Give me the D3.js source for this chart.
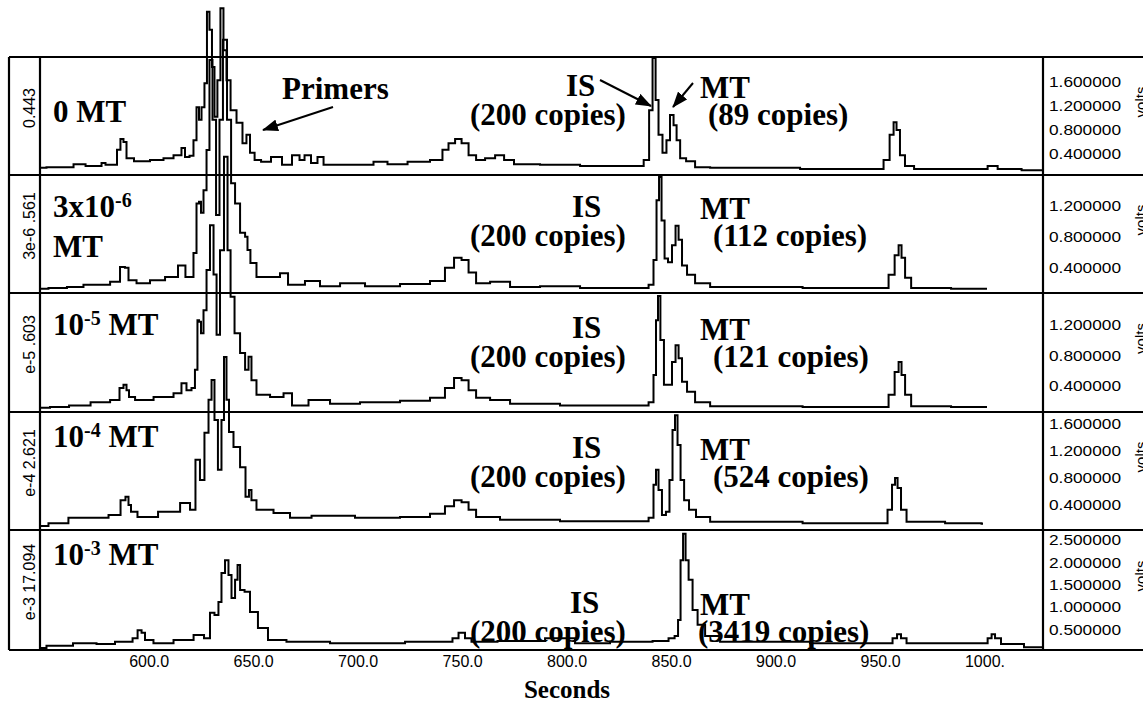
<!doctype html>
<html>
<head>
<meta charset="UTF-8">
<title>electropherogram</title>
<script src="https://cdn.jsdelivr.net/npm/d3@7"></script>
<style>
    body { margin: 0; background: #fff; }
    .serif { font-family: "Liberation Serif", "Times New Roman", serif; font-weight: bold; }
    .sans { font-family: "Liberation Sans", Arial, sans-serif; }
</style>
</head>
<body>
<svg width="1143" height="704"></svg>
<script>
// time axis (seconds)
var xTicks = [600, 650, 700, 750, 800, 850, 900, 950, 1000];
var xTickLabels = ["600.0", "650.0", "700.0", "750.0", "800.0", "850.0", "900.0", "950.0", "1000."];

// per panel: side label, volts ticks, visible volts range
var sideLabels = ["0.443", "3e-6 .561", "e-5 .603", "e-4 2.621", "e-3 17.094"];
var yTicks = [[0.4, 0.8, 1.2, 1.6], [0.4, 0.8, 1.2], [0.4, 0.8, 1.2], [0.4, 0.8, 1.2, 1.6], [0.5, 1, 1.5, 2, 2.5]];
var yRanges = [[0.05, 2.017], [0.074, 1.596], [0.053, 1.618], [0.019, 1.767], [0.036, 2.726]];

// panel titles (text, superscript, text) and copy numbers
var dilutions = [["0 MT", "", ""], ["3x10", "-6", ""], ["10", "-5", " MT"], ["10", "-4", " MT"], ["10", "-3", " MT"]];
var isCopies = ["(200 copies)", "(200 copies)", "(200 copies)", "(200 copies)", "(200 copies)"];
var mtCopies = ["(89 copies)", "(112 copies)", "(121 copies)", "(524 copies)", "(3419 copies)"];

// traces: [seconds, volts]
var trace0 = [[548.0,0.17],[554.2,0.18],[562.4,0.18],[565.7,0.23],[568.6,0.23],[571.0,0.20],[576.7,0.20],[578.2,0.25],[580.5,0.22],[583.9,0.22],[585.8,0.47],[587.2,0.65],[588.7,0.60],[590.1,0.33],[595.9,0.28],[605.4,0.30],[608.8,0.33],[615.0,0.38],[616.4,0.50],[618.4,0.35],[620.7,0.37],[622.2,0.63],[623.6,1.18],[624.6,0.97],[626.0,1.18],[627.4,1.58],[628.4,2.77],[629.8,2.47],[630.8,1.85],[632.2,1.02],[633.6,1.63],[635.1,2.83],[636.5,2.13],[638.0,1.63],[640.4,1.13],[643.7,0.92],[646.1,0.58],[647.5,0.72],[649.5,0.42],[651.9,0.30],[655.7,0.27],[661.4,0.35],[666.2,0.22],[671.0,0.38],[673.4,0.30],[675.8,0.38],[679.6,0.25],[682.0,0.35],[685.4,0.22],[704.5,0.22],[710.7,0.27],[717.9,0.23],[729.9,0.27],[739.4,0.30],[741.8,0.47],[745.2,0.58],[748.1,0.65],[751.4,0.58],[754.8,0.38],[758.6,0.30],[763.4,0.33],[768.2,0.38],[772.0,0.30],[777.7,0.23],[796.9,0.22],[816.0,0.20],[835.2,0.20],[838.6,0.30],[840.4,1.13],[841.9,2.00],[843.3,1.30],[844.7,0.72],[847.1,0.42],[848.5,0.63],[850.5,1.05],[851.9,0.88],[853.4,0.63],[855.3,0.33],[859.1,0.28],[863.9,0.18],[873.5,0.17],[950.0,0.15],[953.4,0.30],[955.8,0.72],[957.2,0.93],[958.6,0.80],[960.5,0.38],[963.4,0.20],[969.2,0.15],[1000.3,0.15],[1002.7,0.20],[1005.1,0.20],[1007.5,0.15],[1028.0,0.13]];
var trace1 = [[548.0,0.13],[556.1,0.14],[565.7,0.15],[571.9,0.18],[578.2,0.18],[584.9,0.22],[587.7,0.41],[589.6,0.40],[591.1,0.24],[597.3,0.20],[604.0,0.24],[611.7,0.28],[616.4,0.43],[618.8,0.28],[620.7,0.28],[622.2,0.59],[623.6,1.23],[624.6,1.25],[625.5,1.11],[627.0,1.40],[628.4,1.92],[629.8,3.08],[631.3,2.31],[633.2,1.08],[634.6,2.31],[636.5,3.34],[638.5,2.31],[640.4,1.49],[642.3,1.23],[645.2,0.85],[647.1,0.80],[647.5,0.63],[649.9,0.46],[653.3,0.28],[661.4,0.28],[664.3,0.33],[669.1,0.18],[672.4,0.18],[677.2,0.23],[686.8,0.16],[696.4,0.20],[710.7,0.16],[729.9,0.19],[739.4,0.23],[744.2,0.40],[748.1,0.53],[751.4,0.50],[754.8,0.34],[758.6,0.20],[768.2,0.22],[777.7,0.15],[796.9,0.16],[816.0,0.14],[837.6,0.14],[840.9,0.18],[842.3,0.50],[843.8,1.27],[844.7,1.57],[846.2,1.01],[847.6,0.52],[849.5,0.47],[851.4,0.69],[852.9,0.94],[854.3,0.76],[856.2,0.43],[859.1,0.31],[863.9,0.20],[873.5,0.15],[952.4,0.14],[955.8,0.31],[958.2,0.56],[959.6,0.69],[961.0,0.53],[963.0,0.27],[966.8,0.14],[1001.2,0.13]];
var trace2 = [[548.0,0.11],[557.6,0.12],[566.2,0.14],[578.2,0.18],[584.9,0.21],[587.2,0.37],[588.7,0.41],[590.1,0.34],[591.1,0.25],[595.9,0.21],[608.8,0.25],[615.0,0.30],[616.4,0.43],[619.8,0.34],[621.2,0.37],[623.1,0.61],[623.6,1.26],[624.6,1.24],[625.5,1.09],[627.0,1.39],[628.4,1.92],[630.3,2.51],[631.8,1.86],[633.2,1.07],[635.1,2.18],[637.0,3.41],[638.5,2.18],[639.9,1.57],[642.3,1.09],[645.2,0.83],[647.1,0.61],[648.5,0.78],[649.9,0.47],[653.3,0.28],[662.9,0.25],[666.2,0.30],[671.0,0.14],[682.0,0.21],[691.6,0.16],[710.7,0.18],[729.9,0.20],[739.4,0.24],[744.2,0.37],[748.1,0.50],[751.4,0.47],[754.8,0.34],[758.6,0.24],[768.2,0.21],[777.7,0.16],[816.0,0.14],[837.6,0.14],[840.9,0.18],[842.3,0.54],[843.3,1.26],[844.2,1.58],[845.6,1.00],[847.6,0.41],[849.5,0.41],[851.4,0.71],[852.9,0.93],[854.3,0.76],[856.2,0.45],[859.1,0.32],[863.9,0.18],[873.5,0.13],[952.4,0.12],[955.8,0.28],[958.2,0.58],[959.6,0.71],[961.0,0.54],[963.0,0.28],[966.8,0.13],[1001.2,0.12]];
var trace3 = [[548.0,0.08],[556.1,0.12],[567.1,0.20],[576.7,0.20],[584.9,0.24],[588.2,0.46],[589.6,0.51],[591.1,0.39],[592.0,0.29],[597.3,0.21],[611.7,0.29],[618.4,0.42],[621.2,0.32],[623.6,1.06],[625.5,0.76],[627.9,1.46],[629.4,1.95],[630.8,2.24],[632.2,1.65],[634.1,0.91],[635.6,1.65],[636.5,2.58],[638.0,1.95],[638.9,1.47],[642.3,1.25],[645.2,0.95],[647.5,0.51],[648.5,0.61],[649.9,0.46],[653.3,0.32],[666.2,0.27],[669.1,0.20],[686.8,0.23],[710.7,0.20],[729.9,0.21],[739.4,0.26],[744.2,0.37],[748.1,0.46],[751.4,0.43],[754.8,0.32],[758.6,0.21],[777.7,0.17],[816.0,0.15],[837.6,0.15],[840.9,0.20],[842.3,0.69],[843.3,0.91],[844.7,0.61],[846.6,0.24],[848.5,0.29],[850.0,0.76],[851.4,1.50],[852.4,1.72],[853.8,1.28],[855.3,0.76],[857.2,0.46],[860.0,0.32],[863.9,0.21],[873.5,0.14],[952.4,0.12],[954.8,0.32],[956.7,0.69],[957.7,0.79],[959.1,0.64],[961.0,0.32],[964.4,0.14],[997.9,0.12],[999.3,0.11]];
var trace4 = [[548.0,0.08],[554.2,0.13],[573.4,0.19],[576.7,0.17],[591.1,0.22],[593.5,0.30],[595.9,0.48],[597.3,0.42],[599.2,0.26],[605.4,0.19],[618.4,0.26],[624.6,0.37],[628.4,0.30],[630.3,0.87],[632.7,0.82],[634.1,1.11],[635.6,1.76],[637.5,2.05],[638.9,1.72],[640.4,1.20],[642.3,1.61],[642.8,1.94],[644.7,1.38],[647.1,1.34],[649.9,0.89],[654.7,0.53],[659.5,0.26],[672.4,0.22],[701.2,0.19],[744.2,0.22],[746.6,0.30],[750.0,0.42],[752.8,0.30],[756.2,0.22],[777.7,0.24],[801.7,0.30],[806.4,0.19],[835.2,0.22],[847.1,0.24],[850.5,0.30],[852.9,0.35],[853.8,0.71],[855.3,2.05],[856.2,2.64],[857.7,2.05],[859.1,1.61],[861.5,0.93],[863.9,0.60],[868.7,0.35],[878.2,0.22],[954.8,0.19],[957.2,0.30],[959.1,0.39],[961.0,0.30],[964.4,0.19],[1000.3,0.19],[1002.7,0.30],[1004.1,0.39],[1006.0,0.30],[1009.8,0.17],[1028.0,0.10]];
var traces = [trace0, trace1, trace2, trace3, trace4];

var svg = d3.select("svg");
var outerLeft = 9, plotLeft = 40, plotRight = 1043;
var tops = [57, 175, 293, 412, 530];
var bottoms = [175, 293, 412, 530, 650];

var x = d3.scaleLinear().domain([548, 1028]).range([plotLeft, plotRight]);

// frame
var frame = svg.append("g").attr("stroke", "#000").attr("stroke-width", 2.2);
tops.concat([650]).forEach(function(yy) {
    frame.append("line").attr("x1", outerLeft).attr("x2", 1143).attr("y1", yy).attr("y2", yy);
});
[outerLeft, plotLeft, plotRight].forEach(function(xx) {
    frame.append("line").attr("x1", xx).attr("x2", xx).attr("y1", 57).attr("y2", 650);
});

// x axis labels
var xAxis = svg.append("g")
    .attr("transform", "translate(0,650)")
    .call(d3.axisBottom(x).tickValues(xTicks).tickSize(0).tickPadding(6)
        .tickFormat(function(d, i) { return xTickLabels[i]; }));
xAxis.select(".domain").remove();
xAxis.selectAll("text").attr("class", "sans").attr("font-size", 16).attr("fill", "#000");

svg.append("text").attr("class", "serif")
    .attr("x", 567).attr("y", 698).attr("text-anchor", "middle")
    .attr("font-size", 25).text("Seconds");

// arrow head
svg.append("defs").append("marker")
    .attr("id", "head").attr("markerUnits", "userSpaceOnUse")
    .attr("viewBox", "0 0 16 12").attr("refX", 15).attr("refY", 6)
    .attr("markerWidth", 16).attr("markerHeight", 12).attr("orient", "auto")
    .append("path").attr("d", "M0,0 L16,6 L0,12 Z").attr("fill", "#000");

var line = d3.line().curve(d3.curveStep);

traces.forEach(function(tr, i) {
    var y = d3.scaleLinear().domain(yRanges[i]).range([bottoms[i], tops[i]]);
    var mid = (tops[i] + bottoms[i]) / 2;

    // volts axis on the right
    var yAxis = svg.append("g")
        .attr("transform", "translate(" + plotRight + ",0)")
        .call(d3.axisRight(y).tickValues(yTicks[i]).tickSize(0).tickPadding(6)
            .tickFormat(d3.format(".6f")));
    yAxis.select(".domain").remove();
    yAxis.selectAll("text").attr("class", "sans").attr("font-size", 14)
        .attr("fill", "#000").attr("dy", "0.35em")
        .attr("textLength", 72).attr("lengthAdjust", "spacingAndGlyphs");

    svg.append("text").attr("class", "sans")
        .attr("transform", "translate(1146," + (mid - 14) + ") rotate(-90)")
        .attr("text-anchor", "middle").attr("font-size", 15).text("volts");

    svg.append("text").attr("class", "sans")
        .attr("transform", "translate(35," + (mid - 8) + ") rotate(-90)")
        .attr("text-anchor", "middle").attr("font-size", 16).text(sideLabels[i]);

    // trace
    line.x(function(d) { return x(d[0]); }).y(function(d) { return y(d[1]); });
    svg.append("path").datum(tr)
        .attr("d", line)
        .attr("fill", "none").attr("stroke", "#000")
        .attr("stroke-width", 2).attr("stroke-linejoin", "miter");
});

// panel titles
var titleY = [122, 217, 335, 447, 565];
dilutions.forEach(function(p, i) {
    var t = svg.append("text").attr("class", "serif").attr("font-size", 31)
        .attr("x", 53).attr("y", titleY[i]);
    t.append("tspan").text(p[0]);
    if (p[1]) {
        t.append("tspan").attr("font-size", 20).attr("dy", -10).text(p[1]);
        t.append("tspan").attr("dy", 10).text(p[2]);
    }
});
svg.append("text").attr("class", "serif").attr("font-size", 31)
    .attr("x", 53).attr("y", 257).text("MT");

// peak labels
var isY = [96, 217, 338, 458, 613];
var isX = [566, 572, 572, 572, 570];
var mtX = [708, 713, 713, 713, 698];
isY.forEach(function(yy, i) {
    svg.append("text").attr("class", "serif").attr("font-size", 31)
        .attr("x", isX[i]).attr("y", yy).text("IS");
    svg.append("text").attr("class", "serif").attr("font-size", 31)
        .attr("x", 470).attr("y", yy + 29).text(isCopies[i]);
    svg.append("text").attr("class", "serif").attr("font-size", 31)
        .attr("x", 700).attr("y", yy + 2).text("MT");
    svg.append("text").attr("class", "serif").attr("font-size", 31)
        .attr("x", mtX[i]).attr("y", yy + 29).text(mtCopies[i]);
});

svg.append("text").attr("class", "serif").attr("font-size", 31)
    .attr("x", 282).attr("y", 99).text("Primers");

// arrows
[[333, 107, 263, 130], [600, 80, 651, 106], [693, 83, 673, 107]].forEach(function(a) {
    svg.append("line").attr("x1", a[0]).attr("y1", a[1]).attr("x2", a[2]).attr("y2", a[3])
        .attr("stroke", "#000").attr("stroke-width", 2).attr("marker-end", "url(#head)");
});
</script>
</body>
</html>
